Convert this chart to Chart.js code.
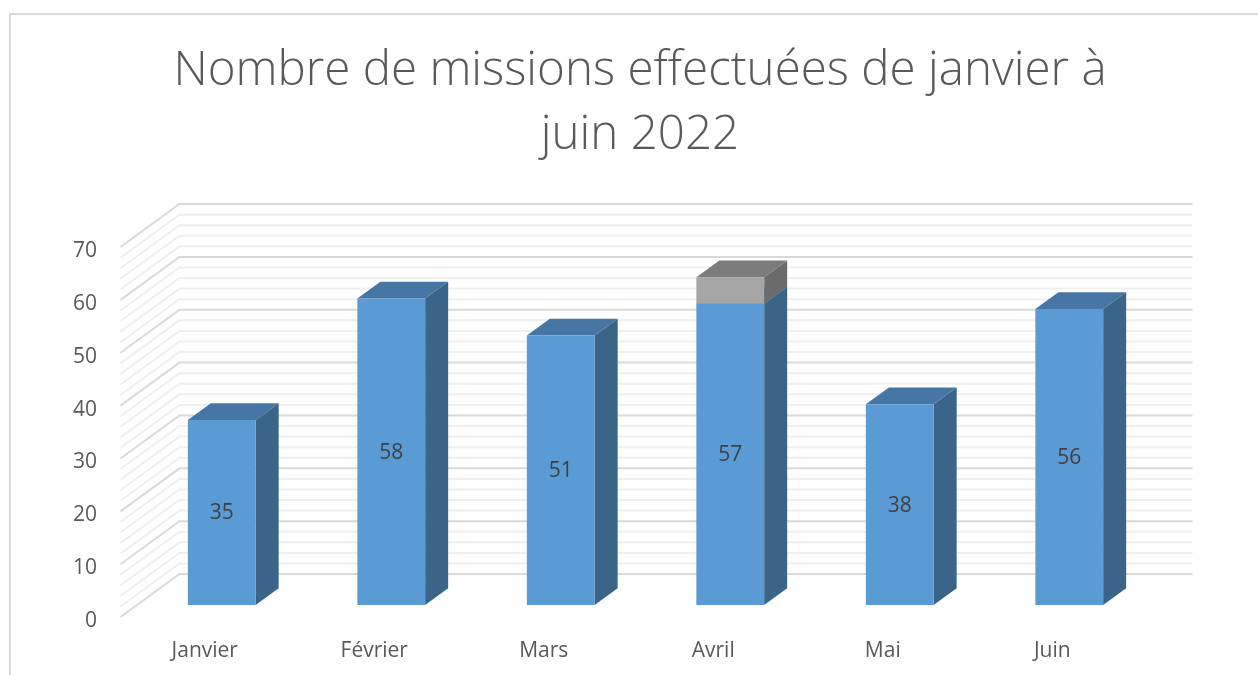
<!DOCTYPE html>
<html>
<head>
<meta charset="utf-8">
<script src="https://cdn.jsdelivr.net/npm/chart.js@4"></script>
<style>
  html, body { margin: 0; padding: 0; background: #fff; }
  #wrap { width: 1258px; height: 675px; position: relative; }
</style>
</head>
<body>
<div id="wrap"><canvas id="chart"></canvas></div>
<script>
const mois = ["Janvier", "Février", "Mars", "Avril", "Mai", "Juin"];
const missions = [35, 58, 51, 57, 38, 56];
const extra = [null, null, null, 5, null, null];
const yTicks = [0, 10, 20, 30, 40, 50, 60, 70];

// profondeur 3D (px) : mur du fond par rapport au bord avant
const DEPTH = { x: 59, y: -43 };
const FRONT = 0.28;   // position de la face avant des barres
const BAR_D = 0.39;   // épaisseur des barres

const faces = [
  { top: "#4677a4", side: "#3a6488" },
  { top: "#7b7b7b", side: "#6b6b6b" }
];

const walls = {
  id: "walls",
  beforeDatasetsDraw(chart) {
    const { ctx, chartArea: a, scales: { y } } = chart;
    const bx = (1 - FRONT) * DEPTH.x, by = (1 - FRONT) * DEPTH.y;
    const fx = -FRONT * DEPTH.x, fy = -FRONT * DEPTH.y;
    ctx.save();
    // cadre
    ctx.strokeStyle = "#d9d9d9";
    ctx.lineWidth = 2;
    ctx.strokeRect(10, 14, 1400, 800);
    // quadrillage (mur gauche + mur du fond)
    for (let v = 0; v <= 70; v += 2) {
      const py = y.getPixelForValue(v);
      ctx.strokeStyle = v % 10 === 0 ? "#d9d9d9" : "#efefef";
      ctx.lineWidth = 2;
      ctx.beginPath();
      ctx.moveTo(a.left + fx, py + fy);
      ctx.lineTo(a.left + bx, py + by);
      ctx.lineTo(a.right + bx - 4, py + by);
      ctx.stroke();
    }
    // côtés et dessus des barres
    const dx = BAR_D * DEPTH.x, dy = BAR_D * DEPTH.y;
    chart.data.datasets.forEach((ds, i) => {
      const meta = chart.getDatasetMeta(i);
      meta.data.forEach((bar, j) => {
        if (ds.data[j] == null) return;
        const { x, y: top, base, width } = bar.getProps(["x", "y", "base", "width"], true);
        const l = x - width / 2, r = x + width / 2;
        ctx.fillStyle = faces[i].side;
        ctx.beginPath();
        ctx.moveTo(r, top); ctx.lineTo(r + dx, top + dy);
        ctx.lineTo(r + dx, base + dy); ctx.lineTo(r, base);
        ctx.closePath(); ctx.fill();
        ctx.fillStyle = faces[i].top;
        ctx.beginPath();
        ctx.moveTo(l, top); ctx.lineTo(r, top);
        ctx.lineTo(r + dx, top + dy); ctx.lineTo(l + dx, top + dy);
        ctx.closePath(); ctx.fill();
      });
    });
    ctx.restore();
  },
  afterDatasetsDraw(chart) {
    const { ctx } = chart;
    const meta = chart.getDatasetMeta(0);
    ctx.save();
    ctx.font = "21px 'Open Sans'";
    ctx.fillStyle = "#404040";
    ctx.textAlign = "center";
    ctx.textBaseline = "middle";
    meta.data.forEach((bar, j) => {
      const { x, y, base } = bar.getProps(["x", "y", "base"], true);
      ctx.fillText(missions[j], x, (y + base) / 2 + 1);
    });
    ctx.restore();
  }
};

new Chart(document.getElementById("chart"), {
  type: "bar",
  data: {
    labels: mois,
    datasets: [
      { data: missions, backgroundColor: "#5b9bd5", barPercentage: 0.4, categoryPercentage: 1 },
      { data: extra, backgroundColor: "#a5a5a5", barPercentage: 0.4, categoryPercentage: 1 }
    ]
  },
  options: {
    responsive: true,
    maintainAspectRatio: false,
    animation: false,
    layout: { padding: { left: 22, right: 0, top: 0, bottom: 10 } },
    plugins: {
      legend: { display: false },
      tooltip: { enabled: false },
      title: {
        display: true,
        text: ["Nombre de missions effectuées de janvier à", "juin 2022"],
        color: "#595959",
        font: { family: "'Open Sans'", size: 47.5, weight: 300, lineHeight: 1.337 },
        padding: { top: 40, bottom: 68 }
      }
    },
    scales: {
      x: {
        stacked: true,
        grid: { display: false },
        border: { display: false },
        ticks: { color: "#595959", font: { family: "'Open Sans'", size: 21 }, padding: 25, labelOffset: -17 },
        afterFit: s => { s.height = 60; }
      },
      y: {
        stacked: true,
        min: 0, max: 70,
        afterBuildTicks: s => { s.ticks = yTicks.map(v => ({ value: v })); },
        grid: { display: false },
        border: { display: false },
        ticks: { color: "#595959", font: { family: "'Open Sans'", size: 21 }, padding: 32, labelOffset: 16 },
        afterFit: s => { s.width = 115; }
      },
      yR: {
        position: "right",
        grid: { display: false },
        border: { display: false },
        ticks: { display: false },
        afterFit: s => { s.width = 104; }
      }
    }
  },
  plugins: [walls]
});
</script>
</body>
</html>
